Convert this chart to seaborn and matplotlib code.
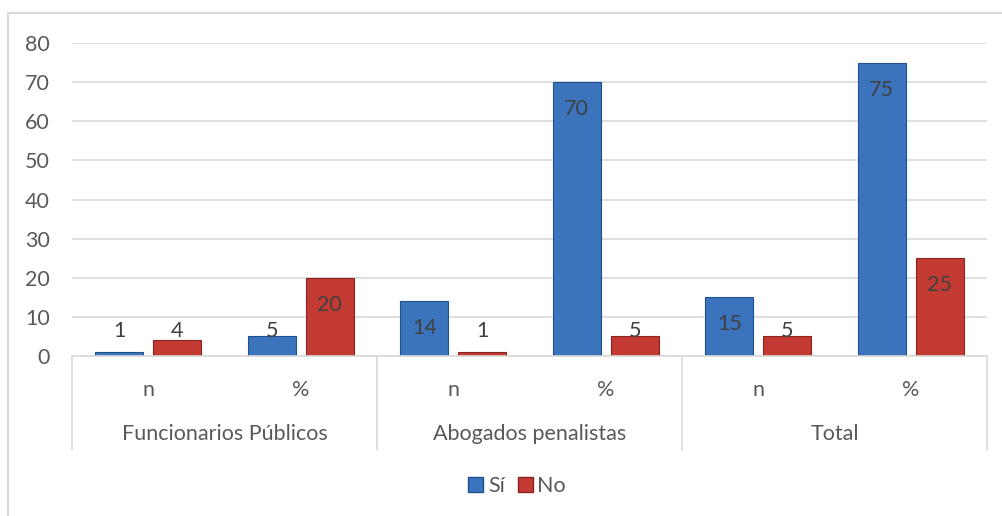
import pandas as pd
import matplotlib.pyplot as plt
import seaborn as sns
from matplotlib.lines import Line2D
from matplotlib.patches import Patch

grupos = ['Funcionarios Públicos', 'Abogados penalistas', 'Total']
subs = ['n', '%']
si_vals = [1, 5, 14, 70, 15, 75]
no_vals = [4, 20, 1, 5, 5, 25]
series = ['Sí', 'No']

slots = [g + ' ' + s for g in grupos for s in subs]
data = pd.DataFrame({
    'slot': slots * 2,
    'serie': ['Sí'] * 6 + ['No'] * 6,
    'valor': si_vals + no_vals,
})

sns.set_style('white')
plt.rcParams['font.family'] = ['Lato', 'DejaVu Sans']
gris = '#595959'
colores = {'Sí': '#3b74bd', 'No': '#c23a32'}
bordes = {'Sí': '#1f4f8c', 'No': '#8a2420'}
fs = 15.5

fig = plt.figure(figsize=(10.02, 5.16), dpi=100)
ax = fig.add_axes([72 / 1002, 1 - 356 / 516, 915 / 1002, 313 / 516])

sns.barplot(data=data, x='slot', y='valor', hue='serie', order=slots,
            hue_order=series, palette=colores, width=0.76, gap=0.17,
            saturation=1, legend=False, ax=ax)

for cont, serie in zip(ax.containers, series):
    for bar in cont:
        bar.set_edgecolor(bordes[serie])
        bar.set_linewidth(0.8)
        v = bar.get_height()
        y = max(v - 6.9, 6.3)
        ax.text(bar.get_x() + bar.get_width() / 2, y, f'{v:g}',
                ha='center', va='center', fontsize=fs, color='#404040', zorder=5)

ax.set_ylim(0, 80)
ax.set_xlim(-0.5, 5.5)
ax.set_yticks(range(0, 81, 10))
ax.yaxis.grid(True, color='#d9d9d9', lw=1.2)
ax.set_axisbelow(True)
for s in ['top', 'right', 'left']:
    ax.spines[s].set_visible(False)
ax.spines['bottom'].set_color('#d9d9d9')
ax.spines['bottom'].set_linewidth(1.2)
ax.set_xticks(range(6))
ax.set_xticklabels(subs * 3)
ax.tick_params(axis='x', length=0, pad=17, labelsize=fs, labelcolor=gris)
ax.tick_params(axis='y', length=0, pad=16, labelsize=fs, labelcolor=gris)
ax.set_xlabel('')
ax.set_ylabel('')

# separadores de grupo y etiquetas de grupo
trans = ax.get_xaxis_transform()
for xb in [-0.5, 1.5, 3.5, 5.5]:
    ax.add_line(Line2D([xb, xb], [0, -0.30], transform=trans, color='#d9d9d9',
                       lw=1.2, clip_on=False))
for i, g in enumerate(grupos):
    ax.text(2 * i + 0.5, -0.25, g, transform=trans, ha='center', va='center',
            fontsize=fs, color=gris)

# marco exterior
fig.add_artist(Line2D([8 / 1002, 1.0], [1 - 13 / 516] * 2, transform=fig.transFigure,
                      color='#d9d9d9', lw=1.5))
fig.add_artist(Line2D([8 / 1002] * 2, [0, 1 - 13 / 516], transform=fig.transFigure,
                      color='#d9d9d9', lw=1.5))

handles = [Patch(facecolor=colores[s], edgecolor=bordes[s], label=s) for s in series]
fig.legend(handles=handles, loc='center', bbox_to_anchor=(517 / 1002, 1 - 486 / 516),
           ncol=2, frameon=False, fontsize=fs, handlelength=0.72, handleheight=0.72,
           handletextpad=0.2, columnspacing=0.6, labelcolor=gris)

fig.savefig('out.png', dpi=100)
